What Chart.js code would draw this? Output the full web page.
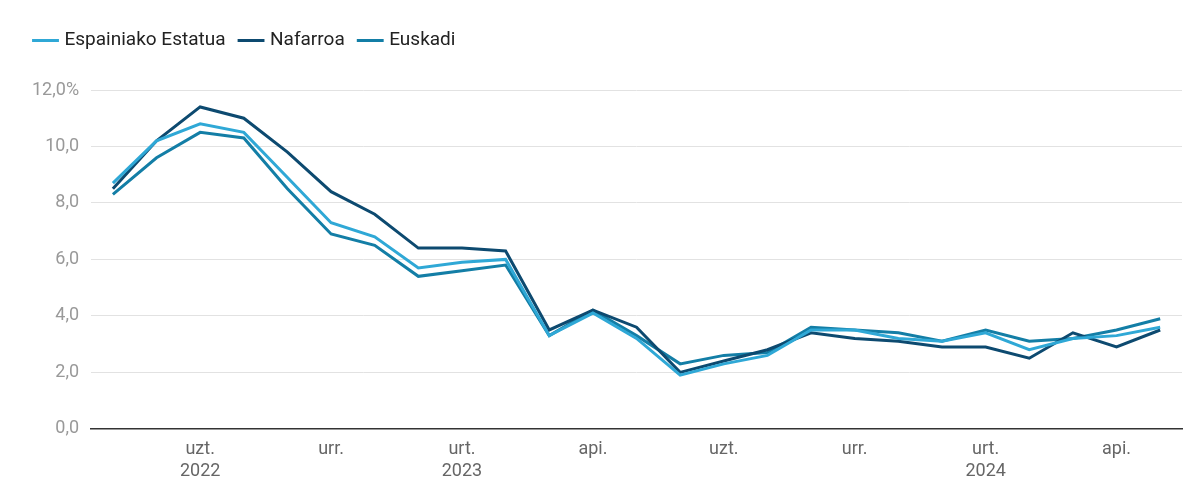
<!DOCTYPE html>
<html>
<head>
<meta charset="utf-8">
<script src="https://cdn.jsdelivr.net/npm/chart.js@4"></script>
<style>
  body { margin: 0; background: #fff; }
  #wrap { width: 1200px; height: 500px; }
</style>
</head>
<body>
<div id="wrap"><canvas id="myChart"></canvas></div>
<script>
// months May 2022 .. May 2024
const months = ['2022-05','2022-06','2022-07','2022-08','2022-09','2022-10','2022-11','2022-12',
  '2023-01','2023-02','2023-03','2023-04','2023-05','2023-06','2023-07','2023-08','2023-09','2023-10','2023-11','2023-12',
  '2024-01','2024-02','2024-03','2024-04','2024-05'];
const tickLabels = {2: ['uzt.','2022'], 5: 'urr.', 8: ['urt.','2023'], 11: 'api.', 14: 'uzt.', 17: 'urr.', 20: ['urt.','2024'], 23: 'api.'};

const espainia = [8.7,10.2,10.8,10.5,8.9,7.3,6.8,5.7,5.9,6.0,3.3,4.1,3.2,1.9,2.3,2.6,3.5,3.5,3.2,3.1,3.4,2.8,3.2,3.3,3.6];
const nafarroa = [8.5,10.2,11.4,11.0,9.8,8.4,7.6,6.4,6.4,6.3,3.5,4.2,3.6,2.0,2.4,2.8,3.4,3.2,3.1,2.9,2.9,2.5,3.4,2.9,3.5];
const euskadi  = [8.3,9.6,10.5,10.3,8.5,6.9,6.5,5.4,5.6,5.8,3.3,4.2,3.3,2.3,2.6,2.7,3.6,3.5,3.4,3.1,3.5,3.1,3.2,3.5,3.9];

const ctx = document.getElementById('myChart');
function line(label, data, color) {
  return { label: label, data: data, borderColor: color, backgroundColor: color,
    borderWidth: 3, pointRadius: 0, tension: 0 };
}
// extra room under the legend
const legendGap = {
  id: 'legendGap',
  beforeInit(chart) {
    const fit = chart.legend.fit;
    chart.legend.fit = function() { fit.bind(chart.legend)(); this.height += 30; };
  }
};
new Chart(ctx, {
  type: 'line',
  data: {
    labels: months,
    datasets: [
      line('Espainiako Estatua', espainia, '#2fa8d6'),
      line('Nafarroa', nafarroa, '#0d4a70'),
      line('Euskadi', euskadi, '#137ea6')
    ]
  },
  plugins: [legendGap],
  options: {
    responsive: true,
    maintainAspectRatio: false,
    animation: false,
    layout: { padding: { left: 20, right: 18, top: 15, bottom: 8 } },
    plugins: {
      legend: {
        position: 'top', align: 'start',
        labels: { usePointStyle: true, pointStyle: 'line', boxWidth: 30, padding: 16,
          color: '#222', font: { family: 'Roboto', size: 19 } }
      },
      tooltip: { enabled: false }
    },
    scales: {
      x: {
        offset: true,
        grid: { display: false, drawTicks: false },
        border: { color: '#333', width: 1.5 },
        ticks: {
          autoSkip: false, maxRotation: 0, padding: 10,
          color: '#666', font: { family: 'Roboto', size: 18 },
          callback: function(v, i) { return tickLabels[i] || ''; }
        }
      },
      y: {
        min: 0, max: 12,
        grid: { color: '#e2e2e2', drawTicks: false },
        border: { display: false },
        ticks: {
          stepSize: 2, padding: 12,
          color: '#999', font: { family: 'Roboto', size: 18 },
          callback: function(v) { return v.toFixed(1).replace('.', ',') + (v === 12 ? '%' : ''); }
        }
      }
    }
  }
});
</script>
</body>
</html>
